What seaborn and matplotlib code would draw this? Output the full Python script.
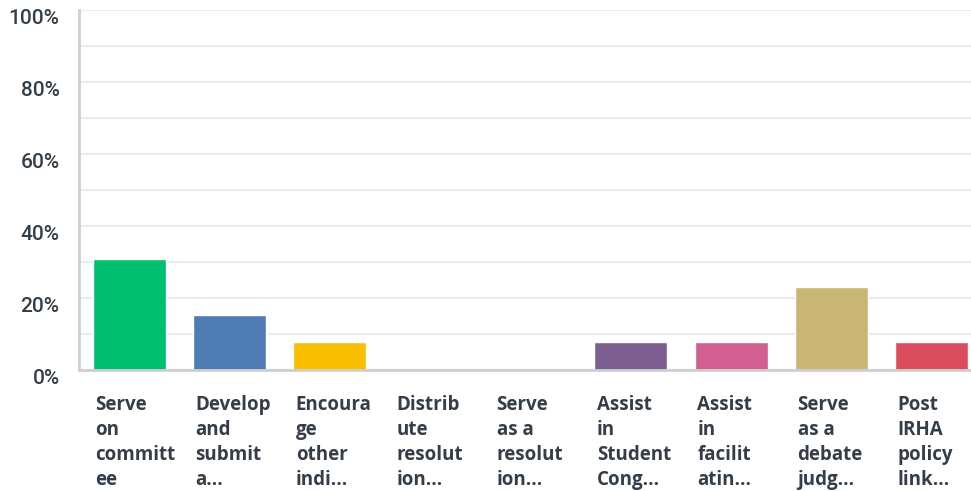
import matplotlib
matplotlib.use("Agg")
import matplotlib.pyplot as plt
import matplotlib.transforms as mtransforms
import seaborn as sns
import pandas as pd

# answer choices (as truncated on the chart) and share of respondents
labels = [
    "Serve\non\ncommitt\nee",
    "Develop\nand\nsubmit\na...",
    "Encoura\nge\nother\nindi...",
    "Distrib\nute\nresolut\nion...",
    "Serve\nas a\nresolut\nion...",
    "Assist\nin\nStudent\nCong...",
    "Assist\nin\nfacilit\natin...",
    "Serve\nas a\ndebate\njudg...",
    "Post\nIRHA\npolicy\nlink...",
]
percents = [30.77, 15.38, 7.69, 0, 0, 7.69, 7.69, 23.08, 7.69]
colors = ["#00bf6f", "#507cb6", "#f9be00", "#6bc8cd", "#ff8b4f",
          "#7d5e90", "#d25f90", "#c9b674", "#db4d5c"]
yticks = [0, 20, 40, 60, 80, 100]

df = pd.DataFrame({"choice": labels, "pct": percents})

sns.set_style("white")
plt.rcParams["font.family"] = ["Open Sans", "DejaVu Sans"]
text_color = "#333e48"

fig = plt.figure(figsize=(9.71, 4.91), dpi=100)
ax = fig.add_axes([79 / 971, 121 / 491, 903 / 971, 360 / 491])

sns.barplot(data=df, x="choice", y="pct", hue="choice", palette=colors,
            legend=False, width=0.73, saturation=1, ax=ax, zorder=3)

ax.set_xlim(-0.5, 8.5)
ax.set_ylim(0, 100)
ax.set_yticks(yticks)
ax.set_yticks(range(10, 100, 20), minor=True)
ax.yaxis.grid(True, which="both", color="#ececec", lw=1.6, zorder=0)
ax.set_yticklabels([f"{t}%" for t in yticks])
ax.tick_params(axis="y", which="both", length=0, pad=14, labelsize=15,
               labelcolor=text_color)
ax.tick_params(axis="x", length=0, pad=18, labelsize=13.5, labelcolor=text_color)
ax.set_xlabel("")
ax.set_ylabel("")

sns.despine(ax=ax, top=True, right=True)
for side in ("left", "bottom"):
    ax.spines[side].set_color("#cfcfcf")
    ax.spines[side].set_linewidth(2)
    ax.spines[side].set_zorder(5)

# y labels sit a little below their gridlines
ydown = mtransforms.ScaledTranslation(0, -0.07, fig.dpi_scale_trans)
for lab in ax.get_yticklabels():
    lab.set_transform(lab.get_transform() + ydown)
    lab.set_family(["Roboto", "DejaVu Sans"])
    lab.set_fontweight("medium")

# x labels are left aligned to the bar's left edge
xshift = mtransforms.ScaledTranslation(-0.34, 0, fig.dpi_scale_trans)
for lab in ax.get_xticklabels():
    lab.set_horizontalalignment("left")
    lab.set_verticalalignment("top")
    lab.set_fontweight("bold")
    lab.set_linespacing(1.33)
    lab.set_transform(lab.get_transform() + xshift)

fig.savefig("out.png", dpi=100)
